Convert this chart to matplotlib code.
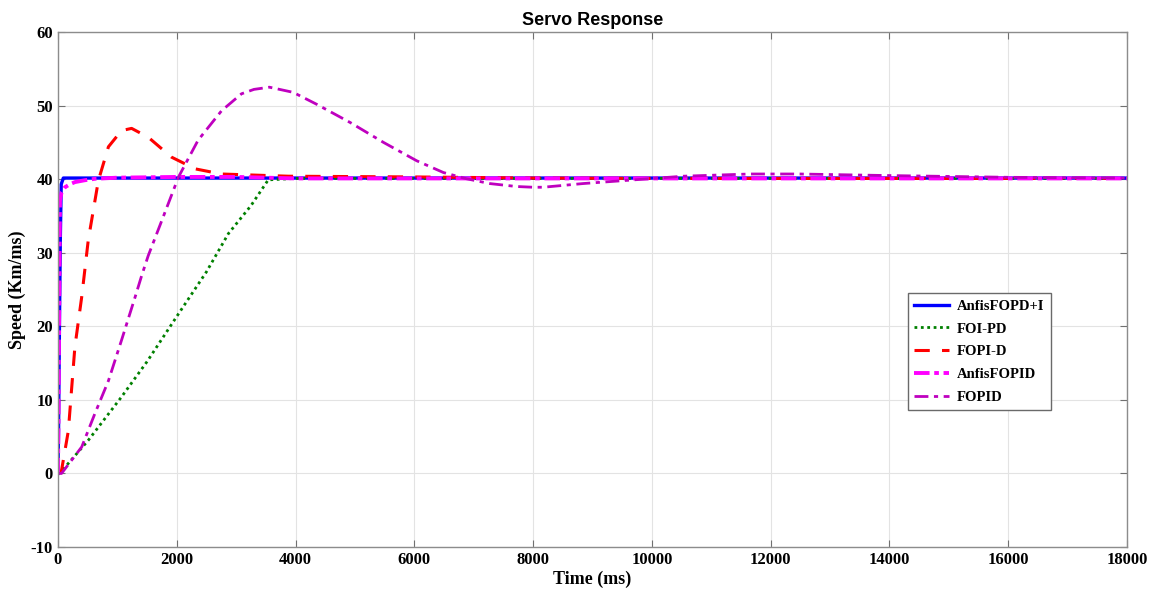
import matplotlib
matplotlib.use("Agg")
import matplotlib.pyplot as plt

plt.rcParams["axes.unicode_minus"] = False

# ---- data ----
t_anfis_pdi = [0, 10, 25, 40, 55, 90, 200, 18000]
v_anfis_pdi = [0, 6, 20, 32, 39.3, 40.15, 40.15, 40.15]

t_foipd = [0, 60, 510, 1070, 1500, 2030, 2500, 2870, 3250, 3540, 4000, 8000, 18000]
v_foipd = [0, 0.3, 4.5, 10.4, 15.2, 21.7, 27.4, 32.6, 36.4, 39.9, 40.1, 40.1, 40.1]

t_fopid_d = [0, 60, 175, 285, 400, 510, 680, 850, 1070, 1240, 1520, 1910, 2310, 2750, 3880,
             6000, 8000, 10000, 18000]
v_fopid_d = [0, 0.4, 5.8, 17.2, 24.0, 31.7, 39.8, 44.4, 46.6, 46.9, 45.7, 43.0, 41.4, 40.7, 40.4,
             40.3, 40.15, 40.1, 40.1]

t_anfis_fopid = [0, 10, 20, 34, 60, 118, 200, 286, 450, 623, 1000, 2000, 3000, 4000, 6000, 18000]
v_anfis_fopid = [0, 8, 22, 37.1, 38.2, 38.9, 39.3, 39.6, 39.85, 40.05, 40.2, 40.3, 40.3, 40.1, 40.1, 40.1]

t_fopid = [0, 60, 400, 620, 850, 1070, 1300, 1410, 1520, 1745, 2030, 2360, 2755, 3090, 3300, 3560,
           3960, 4350, 4920, 5480, 6040, 6490, 6880, 7270, 7720, 8000, 8170, 8840, 9690,
           10530, 11650, 12490, 13890, 16000, 18000]
v_fopid = [0, 0, 3.6, 8.1, 12.6, 18.1, 24.0, 26.9, 29.6, 34.3, 40.3, 45.3, 49.3, 51.6, 52.2, 52.5,
           51.8, 50.2, 47.7, 45.0, 42.5, 40.9, 40.05, 39.4, 39.0, 38.9, 38.9, 39.4, 39.9,
           40.4, 40.7, 40.7, 40.5, 40.25, 40.15]

labels = ["AnfisFOPD+I", "FOI-PD", "FOPI-D", "AnfisFOPID", "FOPID"]

x_ticks = list(range(0, 18001, 2000))
y_ticks = list(range(-10, 61, 10))

# ---- figure ----
fig = plt.figure(figsize=(11.5, 5.96), dpi=100)
ax = fig.add_axes([0.0504, 0.0822, 0.9296, 0.8641])

ax.plot(t_anfis_pdi, v_anfis_pdi, color="#0000ff", lw=2.4, ls="-", label=labels[0])
ax.plot(t_foipd, v_foipd, color="#008000", lw=2.0, ls=(0, (1, 1.3)), label=labels[1])
ax.plot(t_fopid_d, v_fopid_d, color="#ff0000", lw=2.2, ls=(0, (5, 4)), label=labels[2])
ax.plot(t_anfis_fopid, v_anfis_fopid, color="#ff00ff", lw=2.8, ls=(0, (4, 1.2, 1.2, 1.2)), label=labels[3])
ax.plot(t_fopid, v_fopid, color="#bf00bf", lw=2.0, ls=(0, (5, 2, 1.5, 2)), label=labels[4])

ax.set_xlim(0, 18000)
ax.set_ylim(-10, 60)
ax.set_xticks(x_ticks)
ax.set_yticks(y_ticks)
ax.grid(True, color="#e3e3e3", lw=0.8)
ax.set_axisbelow(True)
for s in ax.spines.values():
    s.set_color("#8c8c8c")
    s.set_linewidth(1.0)
ax.tick_params(direction="in", top=True, right=True, length=5, color="#707070",
               labelsize=12)
for lbl in ax.get_xticklabels() + ax.get_yticklabels():
    lbl.set_fontfamily("Liberation Serif")
    lbl.set_fontweight("bold")

ax.set_xlabel("Time (ms)", fontfamily="Liberation Serif", fontweight="bold", fontsize=13, labelpad=2)
ax.set_ylabel("Speed (Km/ms)", fontfamily="Liberation Serif", fontweight="bold", fontsize=13)
ax.yaxis.set_label_coords(-0.030, 0.5)
ax.set_title("Servo Response", fontfamily="Liberation Sans", fontweight="bold", fontsize=13, pad=5)

leg = ax.legend(loc="upper left", bbox_to_anchor=(0.795, 0.493), borderaxespad=0,
                fancybox=False, edgecolor="#6a6a6a", framealpha=1, handlelength=2.4,
                handletextpad=0.5, borderpad=0.45, labelspacing=0.65,
                prop={"family": "Liberation Serif", "weight": "bold", "size": 10.5})
leg.get_frame().set_linewidth(1.0)

fig.savefig("out.png", dpi=100)
